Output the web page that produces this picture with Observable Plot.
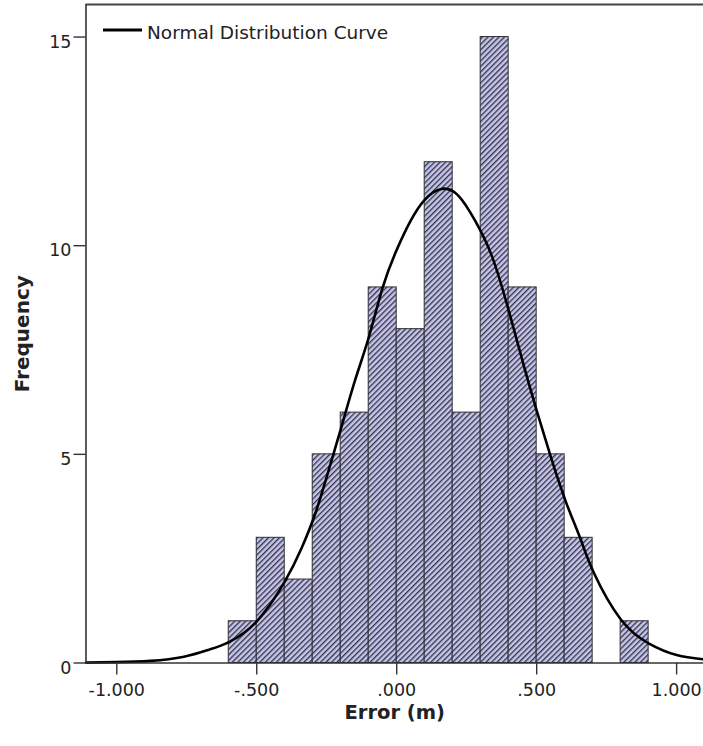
<!DOCTYPE html>
<html>
<head>
<meta charset="utf-8">
<script src="https://cdn.jsdelivr.net/npm/d3@7"></script>
<script src="https://cdn.jsdelivr.net/npm/@observablehq/plot@0.6"></script>
<style>
  body { margin: 0; background: #fff; }
  #chart svg { display: block; }
</style>
</head>
<body>
<div id="chart"></div>
<script>
// Histogram bins (lower / upper edges) and counts
const binLo = [-0.6, -0.5, -0.4, -0.3, -0.2, -0.1, 0.0, 0.1, 0.2, 0.3, 0.4, 0.5, 0.6, 0.7, 0.8];
const binHi = [-0.5, -0.4, -0.3, -0.2, -0.1, 0.0, 0.1, 0.2, 0.3, 0.4, 0.5, 0.6, 0.7, 0.8, 0.9];
const counts = [1, 3, 2, 5, 6, 9, 8, 12, 6, 15, 9, 5, 3, 0, 1];

// Normal distribution curve
const curveX = [-1.110, -1.000, -0.880, -0.760, -0.670, -0.600, -0.500, -0.400, -0.340, -0.290,
                -0.243, -0.200, -0.150, -0.100, -0.050, 0.000, 0.050, 0.100, 0.160, 0.220,
                0.280, 0.340, 0.400, 0.455, 0.500, 0.550, 0.605, 0.655, 0.705, 0.800,
                0.900, 1.000, 1.096];
const curveY = [0.01, 0.02, 0.05, 0.15, 0.32, 0.50, 1.00, 1.95, 2.75, 3.60,
                4.62, 5.60, 6.75, 7.80, 9.00, 9.90, 10.60, 11.10, 11.36, 11.20,
                10.60, 9.75, 8.45, 7.10, 6.05, 4.95, 3.85, 3.00, 2.15, 1.05,
                0.47, 0.19, 0.09];

// Tick values
const xTicks = [-1, -0.5, 0, 0.5, 1];
const yTicks = [0, 5, 10, 15];

const xDomain = [-1.11, 1.096];
const yDomain = [0, 15.78];

const bins = binLo.map((lo, i) => ({lo, hi: binHi[i], n: counts[i]})).filter(d => d.n > 0);
const curve = curveX.map((x, i) => ({x, y: curveY[i]}));

const fmt3 = d3.formatLocale({decimal: ".", thousands: ",", grouping: [3], currency: ["", ""], minus: "-"}).format(".3f");
const fmtX = d => fmt3(d).replace(/^(-?)0\./, "$1.");
const font = "DejaVu Sans, Verdana, sans-serif";
const ink = "#222";

const svg = Plot.plot({
  width: 703,
  height: 746,
  marginLeft: 85.5,
  marginRight: 0,
  marginTop: 4,
  marginBottom: 83.5,
  style: {fontFamily: font, color: ink, background: "#fff"},
  x: {domain: xDomain},
  y: {domain: yDomain},
  marks: [
    Plot.rectY(bins, {x1: "lo", x2: "hi", y1: 0, y2: "n", fill: "url(#hatch)", stroke: "#2e2e36", strokeWidth: 1, inset: 0}),
    Plot.line(curve, {x: "x", y: "y", stroke: "#000", strokeWidth: 2.6, curve: "natural"}),
    Plot.ruleX([xDomain[0]], {stroke: "#333", strokeWidth: 1.6}),
    Plot.ruleY([0], {stroke: "#333", strokeWidth: 1.6}),
    Plot.ruleY([yDomain[1]], {stroke: "#444", strokeWidth: 1.8}),
    // x axis
    Plot.axisX({ticks: xTicks, tickSize: 12, tickPadding: 9, tickFormat: fmtX, fontSize: 17.5, label: null, stroke: "#333", strokeWidth: 1.4}),
    // y axis ticks and labels (labels set slightly lower)
    Plot.axisY({ticks: yTicks, tickSize: 12, tickFormat: () => "", label: null, stroke: "#333", strokeWidth: 1.4}),
    Plot.axisY({ticks: yTicks, tickSize: 0, tickPadding: 14.5, dy: 5, fontSize: 17.5, label: null}),
    // axis titles
    Plot.text(["Frequency"], {frameAnchor: "left", textAnchor: "middle", lineAnchor: "middle", rotate: -90, dx: -63.5, fontSize: 20, fontWeight: "bold", fill: ink}),
    Plot.text(["Error (m)"], {frameAnchor: "bottom", textAnchor: "middle", lineAnchor: "middle", dy: 50, fontSize: 19.5, fontWeight: "bold", fill: ink})
  ]
});

// hatch pattern definition
const root = d3.select(svg);
const defs = root.insert("defs", ":first-child");
const P = 3.9;
const pat = defs.append("pattern")
  .attr("id", "hatch")
  .attr("patternUnits", "userSpaceOnUse")
  .attr("width", P)
  .attr("height", P)
  .attr("patternTransform", "rotate(45)");
pat.append("rect").attr("width", P).attr("height", P).attr("fill", "#c6c6ec");
pat.append("line").attr("x1", 0.7).attr("y1", 0).attr("x2", 0.7).attr("y2", P)
  .attr("stroke", "#2e2e40").attr("stroke-width", 1.3);

// legend inside the plot
const lg = root.append("g").attr("text-anchor", "start");
lg.append("line").attr("x1", 103).attr("x2", 142).attr("y1", 30).attr("y2", 30)
  .attr("stroke", "#000").attr("stroke-width", 3);
lg.append("text").attr("x", 147).attr("y", 33).attr("dy", "0.35em")
  .attr("font-size", 18.5).attr("font-family", font).attr("fill", ink)
  .text("Normal Distribution Curve");

document.getElementById("chart").append(svg);
</script>
</body>
</html>
